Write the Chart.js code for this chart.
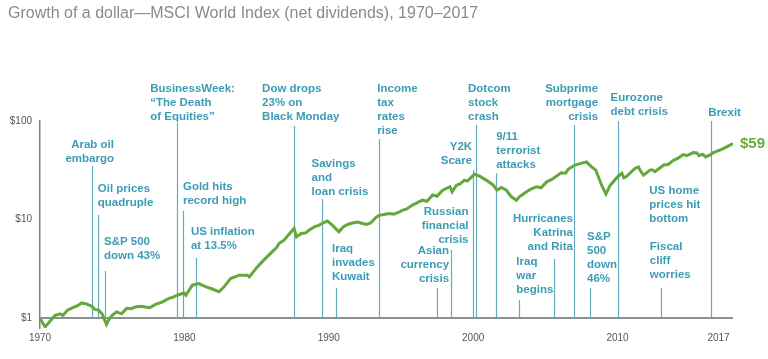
<!DOCTYPE html>
<html>
<head>
<meta charset="utf-8">
<script src="https://cdn.jsdelivr.net/npm/chart.js@4/dist/chart.umd.min.js"></script>
<style>
  html, body { margin: 0; padding: 0; background: #ffffff; }
  #wrap { width: 768px; height: 359px; position: relative; }
</style>
</head>
<body>
<div id="wrap"><canvas id="c" width="768" height="359"></canvas></div>
<script>
// ---- Data ----
const titleText = 'Growth of a dollar\u2014MSCI World Index (net dividends), 1970\u20132017';
const years = [
  1970.0, 1970.35, 1970.7, 1971.05, 1971.4, 1971.6, 1971.9, 1972.35, 1972.6, 1972.9,
  1973.25, 1973.6, 1973.8, 1974.06, 1974.3, 1974.6, 1974.75, 1975.0, 1975.3, 1975.65,
  1976.0, 1976.3, 1976.6, 1977.0, 1977.3, 1977.6, 1978.0, 1978.45, 1978.9, 1979.2,
  1979.5, 1979.97, 1980.1, 1980.55, 1981.0, 1981.5, 1981.85, 1982.4, 1982.75, 1983.2,
  1983.8, 1984.35, 1984.5, 1985.05, 1985.3, 1985.6, 1986.2, 1986.4, 1986.55, 1986.9,
  1987.4, 1987.6, 1987.77, 1988.1, 1988.4, 1988.65, 1989.0, 1989.3, 1989.6, 1989.9,
  1990.25, 1990.7, 1991.0, 1991.3, 1991.65, 1992.0, 1992.35, 1992.6, 1992.9, 1993.3,
  1993.5, 1994.2, 1994.5, 1994.9, 1995.1, 1995.4, 1995.8, 1996.2, 1996.5, 1996.8,
  1997.2, 1997.5, 1997.7, 1997.9, 1998.4, 1998.55, 1998.85, 1999.1, 1999.4, 1999.6,
  1999.9, 2000.1, 2000.45, 2000.9, 2001.4, 2001.65, 2001.95, 2002.3, 2002.65, 2003.0,
  2003.2, 2003.7, 2004.0, 2004.4, 2004.7, 2005.1, 2005.45, 2006.1, 2006.4, 2006.6,
  2007.05, 2007.6, 2007.85, 2008.2, 2008.5, 2008.9, 2009.2, 2009.5, 2010.05, 2010.3,
  2010.45, 2010.6, 2011.2, 2011.45, 2011.6, 2011.8, 2012.25, 2012.4, 2012.6, 2013.2,
  2013.5, 2013.9, 2014.2, 2014.55, 2014.8, 2015.25, 2015.5, 2015.65, 2015.9, 2016.1,
  2016.45, 2016.65, 2017.25, 2018.0
];
const values = [
  0.99, 0.81, 0.93, 1.06, 1.10, 1.06, 1.20, 1.29, 1.33, 1.42,
  1.38, 1.31, 1.22, 1.20, 1.10, 0.86, 0.95, 1.06, 1.15, 1.10,
  1.25, 1.24, 1.29, 1.31, 1.29, 1.27, 1.37, 1.45, 1.57, 1.62,
  1.70, 1.79, 1.70, 2.15, 2.23, 2.07, 1.99, 1.84, 2.07, 2.51,
  2.72, 2.72, 2.61, 3.3, 3.6, 4.0, 4.88, 5.2, 5.7, 6.16,
  7.5, 8.1, 6.65, 7.2, 7.3, 7.8, 8.4, 8.7, 9.2, 9.65,
  8.75, 7.5, 8.4, 8.9, 9.2, 9.4, 9.1, 8.9, 9.2, 10.6,
  11.0, 11.5, 11.3, 11.9, 12.4, 12.8, 14.0, 15.0, 15.7, 15.3,
  17.7, 17.2, 18.5, 19.8, 21.5, 19.1, 22.3, 23.0, 25.1, 24.5,
  27.1, 28.8, 27.5, 25.1, 22.3, 19.8, 21.1, 19.8, 17.0, 15.7,
  17.0, 19.1, 20.3, 21.5, 21.0, 24.1, 25.5, 29.8, 29.5, 32.5,
  35.7, 37.6, 38.5, 34.2, 31.7, 22.3, 18.1, 22.3, 27.5, 29.4,
  26.5, 27.1, 33.0, 34.2, 31.0, 28.2, 31.7, 31.9, 30.5, 35.7,
  36.2, 40.1, 42.0, 45.6, 44.5, 47.8, 47.4, 44.5, 46.0, 43.2,
  45.5, 47.8, 51.8, 59.0
];
const finalLabel = '$59';
const xTickYears = [1970, 1980, 1990, 2000, 2010, 2017];
const yTickValues = [1, 10, 100];

const eventYears = [1973.6, 1974.0, 1974.5, 1979.5, 1979.9, 1980.8, 1987.6, 1989.5, 1990.5, 1993.5,
  1997.5, 1998.5, 2000.0, 2000.2, 2001.6, 2003.2, 2005.6, 2007.0, 2008.1, 2010.0,
  2012.2, 2013.0, 2016.5];
const eventLabels = [
  ['Arab oil', 'embargo'],
  ['Oil prices', 'quadruple'],
  ['S&P 500', 'down 43%'],
  ['BusinessWeek:', '\u201CThe Death', 'of Equities\u201D'],
  ['Gold hits', 'record high'],
  ['US inflation', 'at 13.5%'],
  ['Dow drops', '23% on', 'Black Monday'],
  ['Savings', 'and', 'loan crisis'],
  ['Iraq', 'invades', 'Kuwait'],
  ['Income', 'tax', 'rates', 'rise'],
  ['Asian', 'currency', 'crisis'],
  ['Russian', 'financial', 'crisis'],
  ['Y2K', 'Scare'],
  ['Dotcom', 'stock', 'crash'],
  ['9/11', 'terrorist', 'attacks'],
  ['Iraq', 'war', 'begins'],
  ['Hurricanes', 'Katrina', 'and Rita'],
  ['Subprime', 'mortgage', 'crisis'],
  ['S&P', '500', 'down', '46%'],
  ['Eurozone', 'debt crisis'],
  ['US home', 'prices hit', 'bottom'],
  ['Fiscal', 'cliff', 'worries'],
  ['Brexit']
];

// ---- Layout of event markers (pixels): line top, label offset from line, first label row, alignment ----
const eventLayout = [
  {top: 166, dx: 22, ty: 145, align: 'right'},
  {top: 215, dx: 0, ty: 189, align: 'left'},
  {top: 271, dx: -1, ty: 242, align: 'left'},
  {top: 123, dx: -27, ty: 89, align: 'left'},
  {top: 211, dx: 0, ty: 187, align: 'left'},
  {top: 258, dx: -5, ty: 232, align: 'left'},
  {top: 126, dx: -32, ty: 89, align: 'left'},
  {top: 199, dx: -10, ty: 164, align: 'left'},
  {top: 288, dx: -4, ty: 249, align: 'left'},
  {top: 139, dx: -2, ty: 89, align: 'left'},
  {top: 288, dx: 12, ty: 251, align: 'right'},
  {top: 250, dx: 17, ty: 212, align: 'right'},
  {top: 170, dx: -1, ty: 147, align: 'right'},
  {top: 125, dx: -8, ty: 89, align: 'left'},
  {top: 173, dx: 0, ty: 137, align: 'left'},
  {top: 300, dx: -3, ty: 262, align: 'left'},
  {top: 259, dx: 19, ty: 219, align: 'right'},
  {top: 125, dx: 24, ty: 89, align: 'right'},
  {top: 288, dx: -3, ty: 237, align: 'left'},
  {top: 121, dx: -7, ty: 98, align: 'left'},
  {top: null, dx: 0, ty: 191, align: 'left'},
  {top: 288, dx: -11, ty: 247, align: 'left'},
  {top: 121, dx: -3, ty: 113, align: 'left'}
];

const points = years.map((x, i) => ({x: x, y: values[i]}));

const eventsPlugin = {
  id: 'events',
  beforeDatasetsDraw(chart) {
    const ctx = chart.ctx;
    const xs = chart.scales.x, ys = chart.scales.y;
    const base = ys.getPixelForValue(1);
    ctx.save();
    ctx.strokeStyle = '#66acc1';
    ctx.lineWidth = 1.2;
    eventYears.forEach((yr, i) => {
      const l = eventLayout[i];
      if (l.top === null) return;
      const x = Math.round(xs.getPixelForValue(yr)) + 0.5;
      ctx.beginPath();
      ctx.moveTo(x, l.top);
      ctx.lineTo(x, base);
      ctx.stroke();
    });
    ctx.restore();
  },
  afterDatasetsDraw(chart) {
    const ctx = chart.ctx;
    const xs = chart.scales.x, ys = chart.scales.y;
    ctx.save();
    ctx.fillStyle = '#3c9cb6';
    ctx.font = 'bold 11.5px "Liberation Sans", Arial, sans-serif';
    ctx.textBaseline = 'middle';
    eventYears.forEach((yr, i) => {
      const l = eventLayout[i];
      const x = xs.getPixelForValue(yr) + l.dx;
      ctx.textAlign = l.align;
      eventLabels[i].forEach((t, k) => ctx.fillText(t, x, l.ty + k * 14));
    });
    // final value label
    const lx = xs.getPixelForValue(years[years.length - 1]);
    const ly = ys.getPixelForValue(values[values.length - 1]);
    ctx.fillStyle = '#66ab3b';
    ctx.font = 'bold 15px "Liberation Sans", Arial, sans-serif';
    ctx.textAlign = 'left';
    ctx.fillText(finalLabel, lx + 7, ly);
    ctx.restore();
  }
};

new Chart(document.getElementById('c'), {
  type: 'line',
  data: {
    datasets: [{
      data: points,
      borderColor: '#62a83b',
      borderWidth: 3,
      pointRadius: 0,
      tension: 0,
      fill: false
    }]
  },
  options: {
    responsive: false,
    animation: false,
    layout: { padding: { left: 8, right: 35, top: 0, bottom: 0 } },
    plugins: {
      legend: { display: false },
      tooltip: { enabled: false },
      title: {
        display: true,
        text: titleText,
        align: 'start',
        color: '#8a8a8a',
        font: { family: '"Liberation Sans", Arial, sans-serif', size: 16, weight: 'normal', lineHeight: 1.2 },
        padding: { top: 4, bottom: 97.8 }
      }
    },
    scales: {
      x: {
        type: 'linear',
        min: 1970,
        max: 2018,
        afterBuildTicks: (s) => { s.ticks = xTickYears.map(v => ({value: v})); },
        afterFit: (s) => { s.height = 31; },
        grid: { display: false, drawTicks: false },
        border: { display: false },
        ticks: {
          color: '#555555',
          padding: 4,
          maxRotation: 0,
          autoSkip: false,
          font: { family: '"Liberation Sans", Arial, sans-serif', size: 10 },
          callback: (v) => String(v)
        }
      },
      y: {
        type: 'logarithmic',
        min: 0.79,
        max: 100,
        afterBuildTicks: (s) => { s.ticks = yTickValues.map(v => ({value: v})); },
        afterFit: (s) => { s.width = 32; },
        grid: {
          drawTicks: false,
          color: (c) => (c.tick && c.tick.value === 1) ? '#8f8f8f' : 'rgba(0,0,0,0)',
          lineWidth: 2
        },
        border: { display: true, color: '#808080', width: 1.5 },
        ticks: {
          color: '#555555',
          padding: 8,
          font: { family: '"Liberation Sans", Arial, sans-serif', size: 10 },
          callback: (v) => '$' + v
        }
      }
    }
  },
  plugins: [eventsPlugin]
});
</script>
</body>
</html>
